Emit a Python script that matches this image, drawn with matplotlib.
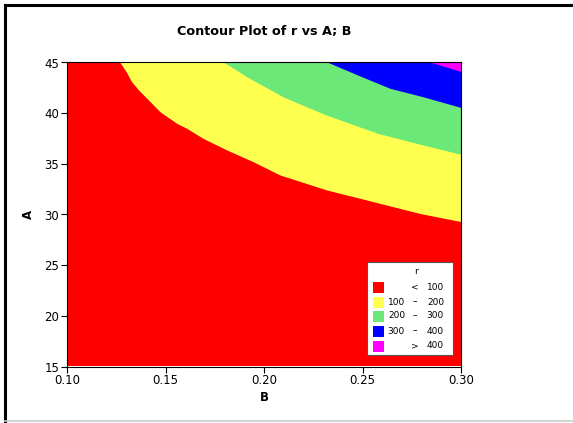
import matplotlib
matplotlib.use("Agg")
import matplotlib.pyplot as plt
from matplotlib.patches import Rectangle
from matplotlib.lines import Line2D

# Contour boundaries: (B, A) points along each level line
levels = [100, 200, 300, 400]
b_100 = [0.1269, 0.1300, 0.1328, 0.1365, 0.1405, 0.1472, 0.1557, 0.1608, 0.1692, 0.1811, 0.1946, 0.2081, 0.2318, 0.2487, 0.2792, 0.30]
a_100 = [45.0, 44.1, 43.1, 42.25, 41.47, 40.14, 39.0, 38.5, 37.5, 36.37, 35.2, 33.9, 32.42, 31.6, 30.1, 29.3]
b_200 = [0.1798, 0.1912, 0.2098, 0.2318, 0.2579, 0.2807, 0.30]
a_200 = [45.0, 43.6, 41.6, 39.8, 38.0, 36.86, 35.94]
b_300 = [0.2326, 0.2487, 0.2640, 0.2807, 0.30]
a_300 = [45.0, 43.67, 42.45, 41.62, 40.56]
b_400 = [0.2851, 0.30]
a_400 = [45.0, 44.11]

band_colors = ["#FF0000", "#FFFF50", "#6BE878", "#0000FF", "#FF00FF"]
legend_lo = ["", "100", "200", "300", ""]
legend_sym = ["<", "\u2013", "\u2013", "\u2013", ">"]
legend_hi = ["100", "200", "300", "400", "400"]

x_ticks = [0.10, 0.15, 0.20, 0.25, 0.30]
y_ticks = [15, 20, 25, 30, 35, 40, 45]

W, H = 573, 423
fig = plt.figure(figsize=(W / 100, H / 100), dpi=100)
fig.patch.set_facecolor("white")

def fx(x):
    return x / W

def fy(y):
    return 1 - y / H

# outer frame
fig.add_artist(Line2D([fx(5), fx(5)], [fy(5), fy(421)], color="black", lw=2.2))
fig.add_artist(Line2D([fx(5), fx(573)], [fy(5), fy(5)], color="black", lw=2.2))
fig.add_artist(Line2D([fx(5), fx(573)], [fy(421), fy(421)], color="#cccccc", lw=1.2))

ax = fig.add_axes([fx(67), fy(366.5), fx(461) - fx(67), fy(62.5) - fy(366.5)])
ax.set_xlim(x_ticks[0], x_ticks[-1])
ax.set_ylim(y_ticks[0], y_ticks[-1])

ax.fill_between([x_ticks[0], x_ticks[-1]], y_ticks[0], y_ticks[-1], color=band_colors[0], lw=0)
for (bb, aa), col in zip([(b_100, a_100), (b_200, a_200), (b_300, a_300), (b_400, a_400)], band_colors[1:]):
    ax.fill_between(bb, aa, y_ticks[-1], color=col, lw=0)

ax.set_xticks(x_ticks)
ax.set_xticklabels([f"{v:.2f}" for v in x_ticks])
ax.set_yticks(y_ticks)
ax.tick_params(direction="out", length=4, width=0.8, labelsize=8.5, pad=1.5, color="black")
for s in ax.spines.values():
    s.set_linewidth(0.8)
    s.set_color("black")

ax.set_xlabel("B", fontsize=8.5, fontweight="bold", labelpad=3)
ax.set_ylabel("A", fontsize=8.5, fontweight="bold", labelpad=7)
ax.set_title("Contour Plot of r vs A; B", fontsize=9.2, fontweight="bold", pad=20)

# legend box
fig.add_artist(Rectangle((fx(367), fy(355)), fx(453) - fx(367), fy(262) - fy(355),
                         facecolor="white", edgecolor="#555555", lw=0.8, zorder=5))
fig.text(fx(416), fy(271), "r", fontsize=6.5, ha="center", va="center", zorder=6)
row_y = [287, 302, 316, 331, 346]
for i in range(5):
    y = row_y[i]
    fig.add_artist(Rectangle((fx(373), fy(y + 5.5)), fx(384) - fx(373), fy(y - 5.5) - fy(y + 5.5),
                             facecolor=band_colors[i], edgecolor="none", zorder=6))
    if legend_lo[i]:
        fig.text(fx(405), fy(y), legend_lo[i], fontsize=6.5, ha="right", va="center", zorder=6)
    fig.text(fx(415), fy(y), legend_sym[i], fontsize=6.5, ha="center", va="center", zorder=6)
    fig.text(fx(444), fy(y), legend_hi[i], fontsize=6.5, ha="right", va="center", zorder=6)

fig.savefig("out.png", dpi=100)
